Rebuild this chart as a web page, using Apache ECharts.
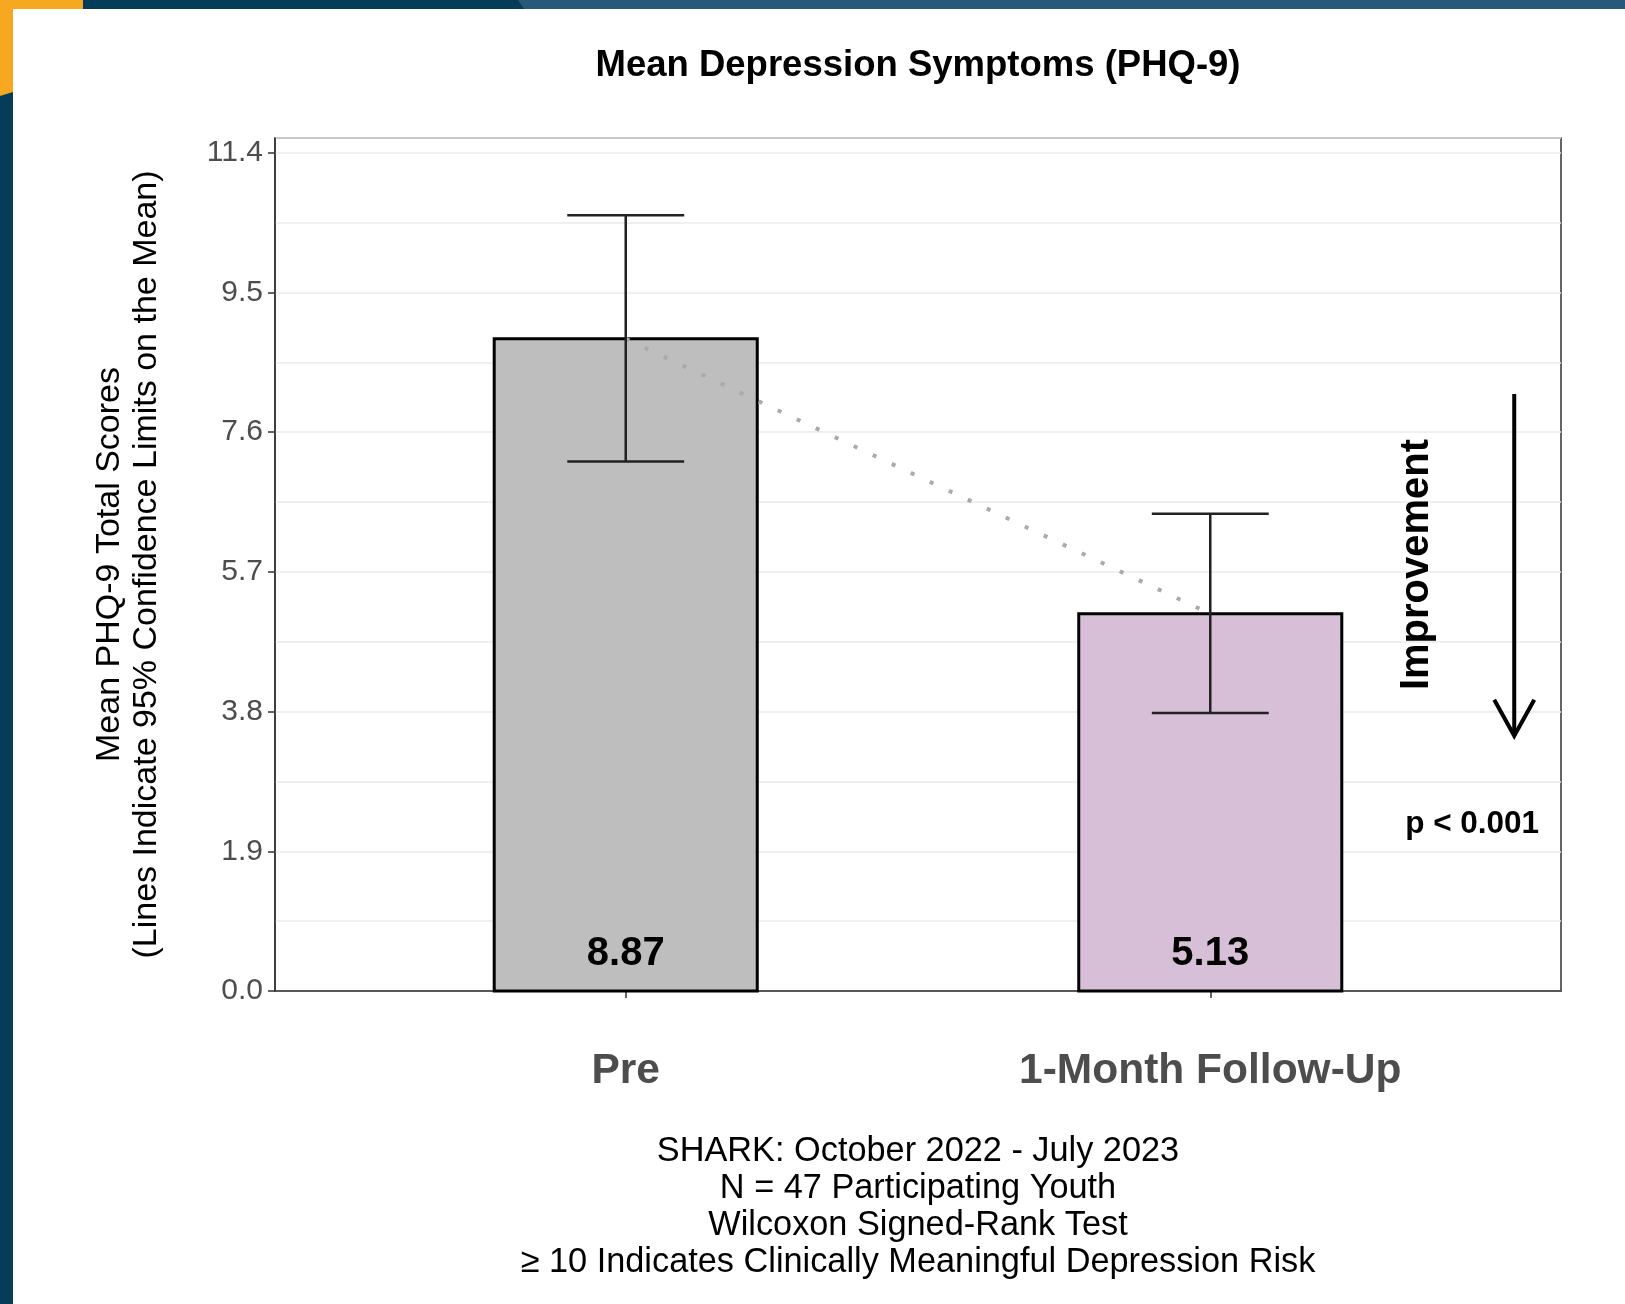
<!DOCTYPE html>
<html>
<head>
<meta charset="utf-8">
<script src="https://cdn.jsdelivr.net/npm/echarts@6/dist/echarts.min.js"></script>
<style>
  html, body { margin: 0; padding: 0; background: #fff; }
  #chart { width: 1625px; height: 1304px; }
</style>
</head>
<body>
<div id="chart"></div>
<script>
// data
var categories = ['Pre', '1-Month Follow-Up'];
var means = [8.87, 5.13];
var ciLow = [7.20, 3.78];
var ciHigh = [10.55, 6.49];
var barColors = ['#bebebe', '#d8bfd8'];
var yTicks = [0, 1.9, 3.8, 5.7, 7.6, 9.5, 11.4];
var captionLines = [
  'SHARK: October 2022 - July 2023',
  'N = 47 Participating Youth',
  'Wilcoxon Signed-Rank Test',
  '\u2265 10 Indicates Clinically Meaningful Depression Risk'
];
// annotation (data coords): arrow x, from, to ; text positions
var arrowPos = [2.52, 8.12, 3.47];
var improvementPos = [2.354, 5.8];
var pValuePos = [2.448, 2.27];

var FONT = '"Liberation Sans", Arial, sans-serif';
var chart = echarts.init(document.getElementById('chart'));

var xs = categories.map(function (c, i) { return i + 1; });

chart.setOption({
  animation: false,
  backgroundColor: '#ffffff',
  grid: {
    left: 275, right: 64, top: 138, bottom: 313,
    show: true, borderColor: '#333', borderWidth: 1.5, backgroundColor: 'transparent'
  },
  xAxis: {
    type: 'value', min: 0.4, max: 2.6,
    axisLine: { show: true, lineStyle: { color: '#333', width: 1.5 } },
    axisTick: { show: true, customValues: xs, length: 7, lineStyle: { color: '#333', width: 1.5 } },
    axisLabel: {
      customValues: xs, margin: 59,
      fontFamily: FONT, fontSize: 42.5, fontWeight: 'bold', color: '#4d4d4d',
      formatter: function (v) { return categories[Math.round(v) - 1]; }
    },
    splitLine: { show: false }
  },
  yAxis: [{
    type: 'value', min: 0, max: 11.6,
    name: 'Mean PHQ-9 Total Scores\n(Lines Indicate 95% Confidence Limits on the Mean)',
    nameLocation: 'middle', nameRotate: 90, nameGap: 110,
    nameTextStyle: { fontFamily: FONT, fontSize: 34, color: '#000', lineHeight: 37 },
    axisLine: { show: true, lineStyle: { color: '#333', width: 1.5 } },
    axisTick: { show: true, customValues: yTicks, length: 7, lineStyle: { color: '#333', width: 1.5 } },
    axisLabel: {
      customValues: yTicks, margin: 12,
      fontFamily: FONT, fontSize: 30, color: '#4d4d4d',
      formatter: function (v) { return v.toFixed(1); }
    },
    splitLine: { show: false }
  }, {
    type: 'value', min: 0, max: 11.6, interval: 0.95, position: 'left',
    axisLine: { show: false }, axisTick: { show: false }, axisLabel: { show: false },
    splitLine: { show: true, lineStyle: { color: '#ebebeb', width: 1.5 } }
  }],
  graphic: [
    { type: 'rect', shape: { x: 0, y: 0, width: 1625, height: 9 }, style: { fill: '#053c57' } },
    { type: 'polygon', shape: { points: [[518, 0], [1625, 0], [1625, 9], [524, 9]] }, style: { fill: '#28587a' } },
    { type: 'rect', shape: { x: 0, y: 0, width: 13, height: 1304 }, style: { fill: '#053c57' } },
    { type: 'rect', shape: { x: 0, y: 0, width: 83, height: 9 }, style: { fill: '#f6a821' } },
    { type: 'polygon', shape: { points: [[0, 0], [13, 0], [13, 92], [0, 96]] }, style: { fill: '#f6a821' } },
    {
      type: 'text', x: 918, y: 66,
      style: { text: 'Mean Depression Symptoms (PHQ-9)', font: 'bold 36.5px ' + FONT, fill: '#000', align: 'center', verticalAlign: 'middle' }
    },
    {
      type: 'text', x: 918, y: 1207,
      style: { text: captionLines.join('\n'), font: '34.3px ' + FONT, lineHeight: 37, fill: '#000', align: 'center', verticalAlign: 'middle' }
    }
  ],
  series: [{
    // bars with outline and value label
    type: 'custom', z: 2,
    data: xs.map(function (x, i) { return [x, means[i], i]; }),
    renderItem: function (params, api) {
      var x = api.value(0), y = api.value(1), i = api.value(2);
      var p0 = api.coord([x - 0.225, y]);
      var p1 = api.coord([x + 0.225, 0]);
      var base = api.coord([x, 0]);
      return {
        type: 'group',
        children: [{
          type: 'rect',
          shape: { x: p0[0], y: p0[1], width: p1[0] - p0[0], height: p1[1] - p0[1] },
          style: { fill: barColors[i], stroke: '#000', lineWidth: 3 }
        }, {
          type: 'text', z2: 10,
          style: {
            text: y.toFixed(2), x: base[0], y: base[1] - 37,
            font: 'bold 40px ' + FONT, fill: '#000', align: 'center', verticalAlign: 'middle'
          }
        }]
      };
    }
  }, {
    type: 'line', z: 3,
    data: xs.map(function (x, i) { return [x, means[i]]; }),
    symbol: 'none',
    lineStyle: { color: '#aaaaaa', width: 4, type: [4, 17] }
  }, {
    // error bars
    type: 'custom', z: 4,
    data: xs.map(function (x, i) { return [x, ciLow[i], ciHigh[i]]; }),
    renderItem: function (params, api) {
      var x = api.value(0), lo = api.value(1), hi = api.value(2);
      var st = { stroke: '#222', lineWidth: 2.5 };
      var a = api.coord([x, lo]), b = api.coord([x, hi]);
      var l1 = api.coord([x - 0.1, lo]), r1 = api.coord([x + 0.1, lo]);
      var l2 = api.coord([x - 0.1, hi]), r2 = api.coord([x + 0.1, hi]);
      return {
        type: 'group',
        children: [
          { type: 'line', shape: { x1: a[0], y1: a[1], x2: b[0], y2: b[1] }, style: st },
          { type: 'line', shape: { x1: l1[0], y1: l1[1], x2: r1[0], y2: r1[1] }, style: st },
          { type: 'line', shape: { x1: l2[0], y1: l2[1], x2: r2[0], y2: r2[1] }, style: st }
        ]
      };
    }
  }, {
    // improvement arrow and texts
    type: 'custom', z: 5,
    data: [[arrowPos[0], arrowPos[1], arrowPos[2]]],
    renderItem: function (params, api) {
      var top = api.coord([api.value(0), api.value(1)]);
      var tip = api.coord([api.value(0), api.value(2)]);
      var imp = api.coord(improvementPos);
      var pv = api.coord(pValuePos);
      return {
        type: 'group',
        children: [
          { type: 'line', shape: { x1: top[0], y1: top[1], x2: tip[0], y2: tip[1] }, style: { stroke: '#000', lineWidth: 4 } },
          { type: 'polyline', shape: { points: [[tip[0] - 20, tip[1] - 36], [tip[0], tip[1]], [tip[0] + 20, tip[1] - 36]] }, style: { stroke: '#000', lineWidth: 4, fill: null } },
          {
            type: 'text', x: imp[0], y: imp[1], rotation: Math.PI / 2,
            style: { text: 'Improvement', x: 0, y: 0, font: 'bold 40px ' + FONT, fill: '#000', align: 'center', verticalAlign: 'middle' }
          },
          {
            type: 'text', x: pv[0], y: pv[1],
            style: { text: 'p < 0.001', x: 0, y: 0, font: 'bold 31.5px ' + FONT, fill: '#000', align: 'center', verticalAlign: 'middle' }
          }
        ]
      };
    }
  }]
});
</script>
</body>
</html>
